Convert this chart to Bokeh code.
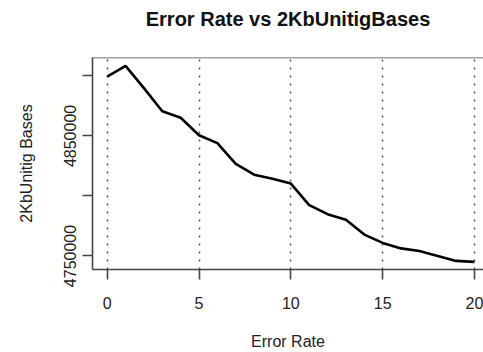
from bokeh.plotting import figure
from bokeh.models import FixedTicker, Range1d, Span, Title
from bokeh.embed import file_html
from bokeh.resources import INLINE

# data
error_rate = [0, 1, 2, 3, 4, 5, 6, 7, 8, 9, 10, 11, 12, 13, 14, 15, 16, 17, 18, 19, 20]
unitig_bases = [4899400, 4908400, 4889800, 4870600, 4865200, 4850600, 4844000,
                4826800, 4817700, 4814400, 4810300, 4792400, 4784800, 4780100,
                4767800, 4760900, 4756300, 4754100, 4750000, 4745900, 4745100]
x_ticks = [0, 5, 10, 15, 20]
y_ticks = [4750000, 4800000, 4850000, 4900000]
y_tick_labels = {4750000: "4750000", 4800000: "", 4850000: "4850000", 4900000: ""}
title_text = "Error Rate vs 2KbUnitigBases"

FONT = "Liberation Sans"
FRAME = "#444444"

x_start, x_end = -0.8, 20.49
y_start, y_end = 4738730, 4915350
p = figure(width=483, height=352, output_backend="svg", toolbar_location=None,
           x_range=Range1d(x_start, x_end), y_range=Range1d(y_start, y_end),
           min_border_left=92, min_border_right=0, min_border_top=57,
           min_border_bottom=80, title_location=None)

p.outline_line_color = None
p.background_fill_color = "white"
p.border_fill_color = "white"

p.line(error_rate, unitig_bases, line_color="black", line_width=2.6)

p.xaxis.ticker = FixedTicker(ticks=x_ticks)
p.xaxis.axis_label = "Error Rate"
p.yaxis.ticker = FixedTicker(ticks=y_ticks)
p.yaxis.major_label_overrides = {k: v for k, v in y_tick_labels.items()}
p.yaxis.axis_label = "2KbUnitig Bases"
p.yaxis.major_label_orientation = "vertical"

for ax in (p.xaxis, p.yaxis):
    ax.axis_line_color = FRAME
    ax.axis_line_width = 1.6
    ax.major_tick_line_color = FRAME
    ax.major_tick_line_width = 1.6
    ax.major_tick_out = 10
    ax.major_tick_in = 0
    ax.minor_tick_line_color = None
    ax.major_label_text_font = FONT
    ax.major_label_text_font_size = "16px"
    ax.major_label_text_color = "#222222"
    ax.axis_label_text_font = FONT
    ax.axis_label_text_font_size = "16px"
    ax.axis_label_text_font_style = "normal"
    ax.axis_label_text_color = "#222222"

p.xaxis.major_label_standoff = 17
p.xaxis.axis_label_standoff = 21
p.yaxis.major_label_standoff = 6
p.yaxis.axis_label_standoff = 27

p.ygrid.grid_line_color = None
p.xgrid.ticker = FixedTicker(ticks=x_ticks)
p.xgrid.grid_line_color = "#555555"
p.xgrid.grid_line_dash = "2 6"
p.xgrid.grid_line_width = 1.5

# top border of the box
p.add_layout(Span(location=y_end, dimension="width", line_color=FRAME, line_width=1.6))

# spacer between the box and the title, then the title itself
p.add_layout(Title(text=" ", text_font_size="1px", standoff=25), "above")
p.add_layout(Title(text=title_text, align="center", text_font=FONT,
                   text_font_size="20px", text_font_style="bold",
                   text_color="#111111", standoff=0), "above")

open("out.html", "w").write(file_html(p, INLINE))
